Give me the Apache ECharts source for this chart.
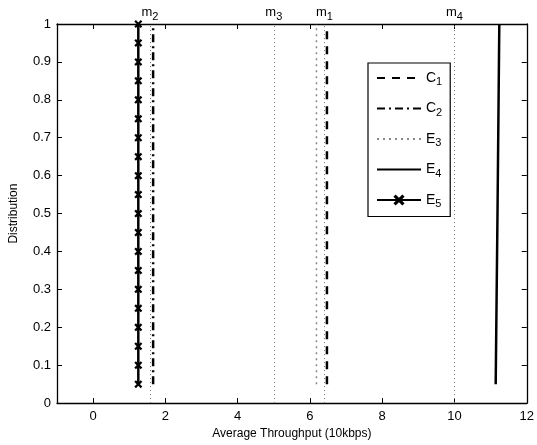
<!DOCTYPE html>
<html>
<head>
<meta charset="utf-8">
<script src="https://cdn.jsdelivr.net/npm/echarts@6/dist/echarts.min.js"></script>
<style>
  html, body { margin: 0; padding: 0; background: #fff; }
  #chart { width: 537px; height: 445px; }
</style>
</head>
<body>
<div id="chart"></div>
<script>
// data
var xTicks = [0, 2, 4, 6, 8, 10, 12];
var c1X = [6.47, 6.47];
var c1Y = [0.05, 1];
var c2X = [1.66, 1.66];
var c2Y = [0.05, 1];
var e3X = [6.18, 6.18];
var e3Y = [0.05, 1];
var e4X = [11.14, 11.19, 11.24];
var e4Y = [0.05, 0.5, 1];
var e5X = [1.25, 1.25, 1.25, 1.25, 1.25, 1.25, 1.25, 1.25, 1.25, 1.25,
           1.25, 1.25, 1.25, 1.25, 1.25, 1.25, 1.25, 1.25, 1.25, 1.25];
var e5Y = [0.05, 0.1, 0.15, 0.2, 0.25, 0.3, 0.35, 0.4, 0.45, 0.5,
           0.55, 0.6, 0.65, 0.7, 0.75, 0.8, 0.85, 0.9, 0.95, 1];
var meanNames = ['1', '2', '3', '4'];
var meanX = [6.40, 1.57, 5.0, 10.0];

var FONT = 'Liberation Sans, Arial, sans-serif';
var chart = echarts.init(document.getElementById('chart'));

function zip(xs, ys) {
    var out = [];
    for (var i = 0; i < xs.length; i++) out.push([xs[i], ys[i]]);
    return out;
}

var xMark = 'path://M0,2 L2,0 L5,3 L8,0 L10,2 L7,5 L10,8 L8,10 L5,7 L2,10 L0,8 L3,5 Z';

var tickStyle = { inside: true, length: 5, lineStyle: { color: '#000' } };
var lineStyleAxis = { onZero: false, lineStyle: { color: '#000', width: 1.3 } };

var option = {
    animation: false,
    textStyle: { fontFamily: FONT },
    grid: { left: 53, right: 7, top: 24, bottom: 40 },
    legend: {
        orient: 'vertical',
        left: 368,
        top: 63,
        padding: [8, 8, 7, 8],
        itemWidth: 44,
        itemHeight: 14,
        itemGap: 14,
        borderColor: '#000',
        borderWidth: 1.2,
        backgroundColor: '#fff',
        data: [
            { name: 'C1', itemStyle: { opacity: 0 } },
            { name: 'C2', itemStyle: { opacity: 0 } },
            { name: 'E3', itemStyle: { opacity: 0 } },
            { name: 'E4', itemStyle: { opacity: 0 } },
            { name: 'E5' }
        ],
        formatter: function (name) {
            return '{a|' + name.charAt(0) + '}{b|' + name.slice(1) + '}';
        },
        textStyle: {
            color: '#000',
            rich: {
                a: { fontSize: 14, fontFamily: FONT, color: '#000' },
                b: { fontSize: 11, fontFamily: FONT, color: '#000', padding: [8, 0, 0, 0] }
            }
        }
    },
    xAxis: [{
        type: 'value', min: -1, max: 12,
        name: 'Average Throughput (10kbps)',
        nameLocation: 'middle', nameGap: 22,
        nameTextStyle: { fontSize: 12, color: '#000', fontFamily: FONT },
        axisLine: lineStyleAxis,
        axisTick: Object.assign({ customValues: xTicks }, tickStyle),
        axisLabel: { customValues: xTicks, color: '#000', fontSize: 13, margin: 7 },
        splitLine: { show: false }
    }, {
        type: 'value', min: -1, max: 12, position: 'top',
        axisLine: lineStyleAxis,
        axisTick: Object.assign({ customValues: xTicks }, tickStyle),
        axisLabel: { show: false },
        splitLine: { show: false }
    }],
    yAxis: [{
        type: 'value', min: 0, max: 1, interval: 0.1,
        name: 'Distribution',
        nameLocation: 'middle', nameGap: 37,
        nameTextStyle: { fontSize: 12, color: '#000', fontFamily: FONT },
        axisLine: lineStyleAxis,
        axisTick: tickStyle,
        axisLabel: { color: '#000', fontSize: 13, margin: 6 },
        splitLine: { show: false }
    }, {
        type: 'value', min: 0, max: 1, interval: 0.1, position: 'right',
        axisLine: lineStyleAxis,
        axisTick: tickStyle,
        axisLabel: { show: false },
        splitLine: { show: false }
    }],
    series: [
        {
            name: 'means', type: 'line', data: [], silent: true,
            markLine: {
                symbol: 'none',
                silent: true,
                lineStyle: { color: '#777', width: 1, type: [1, 3] },
                label: {
                    position: 'end',
                    distance: 2,
                    formatter: function (p) { return '{m|m}{s|' + p.name + '}'; },
                    rich: {
                        m: { fontSize: 13, fontFamily: FONT, color: '#000' },
                        s: { fontSize: 11, fontFamily: FONT, color: '#000', padding: [8, 0, 0, 0] }
                    }
                },
                data: meanX.map(function (v, i) {
                    return [{ name: meanNames[i], coord: [v, 0] }, { coord: [v, 1] }];
                })
            }
        },
        {
            name: 'C1', type: 'line', data: zip(c1X, c1Y), showSymbol: false, symbol: 'none',
            lineStyle: { color: '#000', width: 2.5, type: [8, 7] },
            itemStyle: { color: '#000' }
        },
        {
            name: 'C2', type: 'line', data: zip(c2X, c2Y), showSymbol: false, symbol: 'none',
            lineStyle: { color: '#000', width: 2.5, type: [8, 4, 2, 4] },
            itemStyle: { color: '#000' }
        },
        {
            name: 'E3', type: 'line', data: zip(e3X, e3Y), showSymbol: false, symbol: 'none',
            lineStyle: { color: '#888', width: 1.5, type: [2, 4] },
            itemStyle: { color: '#888' }
        },
        {
            name: 'E4', type: 'line', data: zip(e4X, e4Y), showSymbol: false, symbol: 'none',
            lineStyle: { color: '#000', width: 2.5 },
            itemStyle: { color: '#000' }
        },
        {
            name: 'E5', type: 'line', data: zip(e5X, e5Y),
            symbol: xMark, symbolSize: 8,
            lineStyle: { color: '#000', width: 2.5 },
            itemStyle: { color: '#000' }
        }
    ]
};

chart.setOption(option);
</script>
</body>
</html>
